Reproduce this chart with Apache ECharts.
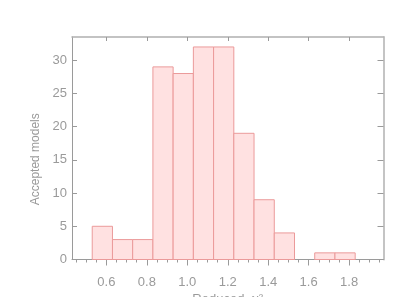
<!DOCTYPE html>
<html>
<head>
<meta charset="utf-8">
<script src="https://cdn.jsdelivr.net/npm/echarts@6/dist/echarts.min.js"></script>
<style>
html,body{margin:0;padding:0;background:#fff;}
#chart{width:415px;height:297px;}
</style>
</head>
<body>
<div id="chart"></div>
<script>
// Histogram data (bin lower edges, bin width, counts)
var binStarts = [0.53, 0.63, 0.73, 0.83, 0.93, 1.03, 1.13, 1.23, 1.33, 1.43, 1.53, 1.63, 1.73];
var binWidth = 0.1;
var counts = [5, 3, 3, 29, 28, 32, 32, 19, 9, 4, 0, 1, 1];

// Tick positions
var xMajorTicks = [0.6, 0.8, 1.0, 1.2, 1.4, 1.6, 1.8];
var xMinorTicks = [0.45, 0.5, 0.55, 0.65, 0.7, 0.75, 0.85, 0.9, 0.95, 1.05, 1.1, 1.15,
                   1.25, 1.3, 1.35, 1.45, 1.5, 1.55, 1.65, 1.7, 1.75, 1.85, 1.9, 1.95];
var yTicks = [0, 5, 10, 15, 20, 25, 30];

var xLabel = 'Reduced\u2212\u03c7\u00b2';
var yLabel = 'Accepted models';

var xMin = 0.43, xMax = 1.97, yMin = 0, yMax = 33.5;

var textColor = '#9a9a9a';
var axisColor = '#9a9a9a';
var fontFamily = 'Liberation Sans, Arial, sans-serif';

var barData = binStarts.map(function (s, i) { return [s, s + binWidth, counts[i]]; });

var chart = echarts.init(document.getElementById('chart'), null, {renderer: 'canvas'});
chart.setOption({
  animation: false,
  backgroundColor: '#ffffff',
  grid: {left: 72, right: 31.5, top: 37, bottom: 37.5, containLabel: false, outerBoundsMode: 'none'},
  xAxis: [
    {
      type: 'value', position: 'bottom', min: xMin, max: xMax,
      name: xLabel, nameLocation: 'middle', nameGap: 31,
      nameTextStyle: {color: textColor, fontSize: 13, fontFamily: fontFamily},
      axisLine: {show: true, lineStyle: {color: axisColor, width: 1}},
      axisTick: {show: true, inside: false, length: 6, customValues: xMajorTicks, lineStyle: {color: axisColor}},
      axisLabel: {show: true, customValues: xMajorTicks, margin: 16, color: textColor, fontSize: 13, fontFamily: fontFamily,
        formatter: function (v) { return v.toFixed(1); }},
      splitLine: {show: false}
    },
    {
      type: 'value', position: 'bottom', min: xMin, max: xMax,
      axisLine: {show: false},
      axisTick: {show: true, inside: false, length: 3, customValues: xMinorTicks, lineStyle: {color: axisColor}},
      axisLabel: {show: false},
      splitLine: {show: false}
    },
    {
      type: 'value', position: 'top', min: xMin, max: xMax,
      axisLine: {show: true, lineStyle: {color: '#b0b0b0', width: 1.5}},
      axisTick: {show: true, inside: true, length: 4, customValues: xMajorTicks, lineStyle: {color: axisColor}},
      axisLabel: {show: false},
      splitLine: {show: false}
    }
  ],
  yAxis: [
    {
      type: 'value', position: 'left', min: yMin, max: yMax,
      name: yLabel, nameLocation: 'middle', nameGap: 29,
      nameTextStyle: {color: textColor, fontSize: 12, fontFamily: fontFamily, padding: [0, 22, 0, 0]},
      axisLine: {show: true, lineStyle: {color: axisColor, width: 1}},
      axisTick: {show: true, inside: true, length: 5, customValues: yTicks, lineStyle: {color: axisColor}},
      axisLabel: {show: true, customValues: yTicks, margin: 5, color: textColor, fontSize: 13, fontFamily: fontFamily},
      splitLine: {show: false}
    },
    {
      type: 'value', position: 'right', min: yMin, max: yMax,
      axisLine: {show: true, lineStyle: {color: '#c4c4c4', width: 2}},
      axisTick: {show: true, inside: true, length: 6, customValues: yTicks.slice(1), lineStyle: {color: axisColor}},
      axisLabel: {show: false},
      splitLine: {show: false}
    }
  ],
  series: [{
    type: 'custom',
    xAxisIndex: 0, yAxisIndex: 0,
    data: barData,
    encode: {x: [0, 1], y: 2},
    renderItem: function (params, api) {
      var x0 = api.value(0), x1 = api.value(1), h = api.value(2);
      if (h <= 0) return null;
      var p0 = api.coord([x0, h]);
      var p1 = api.coord([x1, yMin]);
      return {
        type: 'rect',
        shape: {x: p0[0], y: p0[1], width: p1[0] - p0[0], height: p1[1] - p0[1]},
        style: {fill: '#ffe1e1', stroke: '#eb9a9a', lineWidth: 1}
      };
    }
  }]
});
</script>
</body>
</html>
